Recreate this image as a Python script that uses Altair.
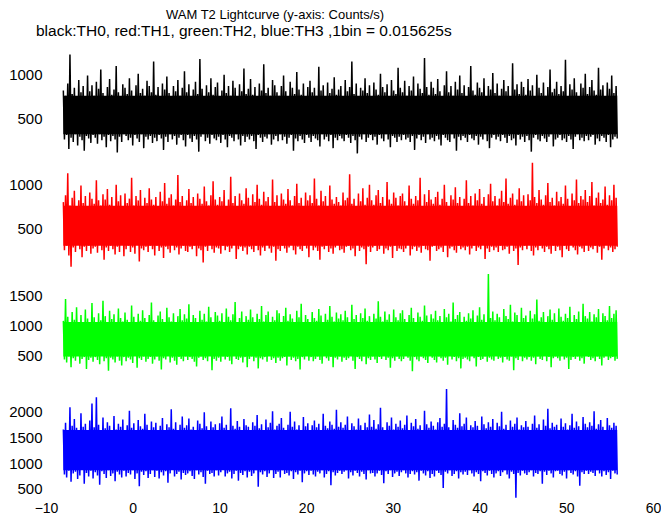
import altair as alt
import pandas as pd

# ---------------- data ----------------
T_START = -8.0
T_END = 56.0
X_TICKS = [-10, 0, 10, 20, 30, 40, 50, 60]

TITLE = "WAM T2 Lightcurve (y-axis: Counts/s)"
SUBTITLE = "black:TH0, red:TH1, green:TH2, blue:TH3 ,1bin = 0.015625s"

# per-column upper / lower extremes (counts/s)
BLACK_HI = [820, 760, 900, 1230, 780, 850, 720, 940, 800, 870, 750, 990, 810, 880,
            760, 920, 840, 1060, 790, 730, 860, 950, 770, 830, 1100, 800, 740, 890,
            850, 780, 960, 820, 710, 880, 1010, 790, 840, 760, 930, 870, 800, 1150,
            770, 860, 740, 900, 830, 980, 790, 720, 870, 810, 940, 760, 850, 1040,
            800, 890, 750, 830, 920, 780, 1180, 840, 730, 880, 800, 960, 770, 860,
            910, 740, 820, 1000, 790, 870, 760, 930, 850, 720, 890, 810, 1070, 780,
            840, 950, 770, 860, 730, 900, 820, 1120, 790, 850, 760, 940, 880, 800,
            760, 870, 990, 810, 740, 920, 850, 780, 1030, 830, 770, 900, 720, 860,
            930, 800, 850, 760, 1090, 820, 880, 740, 910, 790, 840, 970, 770, 830,
            870, 750, 940, 810, 860, 1150, 780, 900, 730, 850, 820, 960, 790, 880,
            740, 910, 830, 770, 1010, 860, 800, 890, 750, 940, 820, 780, 1080, 850,
            800, 930, 760, 870, 820, 980, 740, 900, 840, 790, 1190, 860, 770, 920,
            850, 780, 950, 810, 730, 880, 1040, 800, 870, 760, 920, 830, 990, 790,
            880, 740, 860, 1100, 820, 770, 910, 850, 800, 960, 730, 870, 830, 1020,
            790, 900, 760, 840, 940, 810, 870, 750, 1130, 830, 890, 780, 920, 860,
            770, 950, 820, 880, 740, 1000, 850, 790, 910, 760, 860, 1060, 800, 840,
            920, 780, 870, 810, 1170, 750, 890, 830, 960, 800, 740, 900, 850, 1010,
            780, 860, 940, 820, 770, 1080, 830, 880, 750, 910, 840, 990, 790, 870]
BLACK_LO = [260, 310, 150, 280, 230, 320, 190, 290, 250, 130, 300, 270, 220, 310,
            280, 210, 320, 250, 290, 170, 310, 240, 300, 260, 110, 290, 230, 320,
            300, 250, 280, 190, 310, 270, 230, 320, 160, 290, 260, 300, 220, 280,
            240, 310, 270, 140, 290, 230, 320, 260, 300, 200, 280, 310, 250, 180,
            310, 270, 230, 300, 260, 120, 290, 320, 240, 280, 210, 310, 270, 250,
            290, 220, 310, 260, 170, 300, 280, 240, 320, 260, 190, 300, 230, 290,
            260, 300, 240, 150, 310, 280, 230, 290, 270, 320, 200, 260, 300, 240,
            320, 250, 290, 210, 280, 310, 130, 270, 240, 300, 260, 220, 310, 280,
            230, 300, 270, 250, 180, 320, 260, 290, 240, 310, 160, 280, 250, 300,
            270, 240, 310, 280, 220, 300, 250, 100, 290, 260, 320, 230, 280, 310,
            250, 290, 200, 310, 270, 240, 320, 260, 170, 300, 280, 230, 290, 250,
            310, 260, 280, 230, 300, 140, 270, 310, 250, 290, 220, 320, 260, 280,
            240, 300, 260, 190, 310, 280, 250, 230, 320, 270, 130, 290, 250, 300,
            280, 230, 310, 270, 250, 300, 200, 290, 260, 320, 240, 160, 280, 310,
            260, 290, 240, 310, 280, 220, 300, 250, 270, 190, 310, 260, 290, 230,
            300, 250, 120, 280, 310, 260, 240, 300, 270, 230, 290, 320, 180, 260,
            280, 310, 250, 270, 230, 300, 260, 150, 290, 320, 250, 280, 240, 300,
            250, 290, 310, 200, 270, 240, 300, 280, 230, 310, 170, 260, 290, 270]
BLACK_CORE = [320, 760]

RED_HI = [800, 880, 1130, 760, 850, 930, 740, 820, 990, 790, 870, 730, 910, 840,
          780, 1050, 820, 760, 890, 830, 950, 770, 860, 720, 1000, 810, 880, 750,
          900, 790, 840, 1080, 760, 870, 820, 940, 730, 850, 790, 960, 830, 770,
          860, 740, 920, 810, 1020, 780, 850, 890, 760, 830, 1110, 800, 870, 740,
          820, 950, 790, 860, 730, 900, 840, 780, 980, 810, 760, 880, 1040, 830,
          770, 860, 810, 940, 750, 830, 1090, 790, 870, 740, 900, 820, 780, 960,
          850, 760, 890, 800, 1000, 840, 770, 920, 810, 860, 730, 1060, 800, 880,
          740, 900, 830, 780, 950, 820, 760, 870, 1010, 790, 850, 740, 910, 820,
          880, 790, 1070, 840, 760, 930, 810, 870, 750, 990, 830, 780, 860, 800,
          760, 910, 820, 850, 1120, 780, 840, 730, 900, 810, 960, 770, 850, 1000,
          820, 770, 880, 940, 790, 860, 740, 1030, 830, 780, 910, 850, 760, 870,
          900, 810, 760, 990, 840, 780, 870, 820, 1080, 750, 890, 800, 940, 830,
          780, 860, 920, 770, 840, 1000, 800, 750, 880, 830, 970, 790, 860, 740,
          840, 1050, 790, 870, 760, 900, 820, 950, 780, 860, 730, 890, 1010, 810,
          870, 760, 840, 930, 800, 1070, 780, 850, 900, 770, 830, 960, 810, 880,
          750, 890, 820, 1250, 860, 790, 940, 830, 770, 880, 1020, 800, 850, 760,
          920, 810, 860, 780, 990, 840, 750, 900, 820, 1060, 790, 870, 830, 940,
          800, 870, 1030, 760, 850, 910, 790, 830, 980, 770, 880, 820, 1000, 850]
RED_LO = [250, 300, 190, 60, 280, 230, 310, 260, 170, 290, 240, 300, 210, 270,
          290, 220, 310, 250, 140, 280, 240, 300, 260, 200, 290, 230, 310, 180,
          260, 300, 230, 280, 210, 310, 120, 270, 250, 290, 230, 300, 260, 190,
          300, 240, 280, 160, 290, 260, 220, 310, 250, 280, 200, 270, 300, 240,
          230, 290, 260, 300, 180, 270, 250, 110, 290, 240, 310, 260, 220, 280,
          270, 210, 300, 250, 290, 230, 270, 310, 150, 260, 290, 240, 280, 200,
          290, 260, 230, 300, 250, 190, 280, 240, 310, 270, 220, 290, 130, 260,
          240, 300, 270, 220, 280, 310, 250, 200, 290, 260, 240, 300, 270, 170,
          310, 250, 280, 240, 140, 290, 260, 300, 230, 270, 210, 280, 310, 250,
          260, 220, 290, 300, 250, 270, 180, 310, 240, 280, 260, 90, 290, 230,
          280, 300, 240, 260, 310, 210, 270, 250, 290, 160, 300, 240, 270, 260,
          230, 270, 310, 190, 260, 290, 240, 280, 220, 300, 260, 250, 130, 290,
          300, 240, 260, 280, 230, 310, 170, 270, 290, 250, 220, 300, 260, 280,
          250, 290, 200, 270, 300, 240, 280, 260, 310, 150, 270, 230, 290, 250,
          280, 230, 300, 250, 260, 290, 210, 310, 240, 270, 80, 280, 250, 300,
          260, 310, 240, 190, 280, 250, 300, 270, 230, 290, 260, 210, 300, 240,
          290, 250, 170, 300, 260, 240, 310, 280, 250, 200, 290, 270, 230, 310,
          240, 280, 260, 300, 220, 290, 140, 270, 310, 250, 280, 230, 260, 290]
RED_CORE = [300, 760]

GREEN_HI = [1080, 1450, 1150, 1020, 1230, 1100, 1310, 1060, 1180, 1000, 1270, 1120, 1050, 1380,
            1140, 1010, 1210, 1090, 1420, 1160, 1040, 1250, 1110, 1190, 1030, 1290, 1130, 1070,
            1220, 1100, 1050, 1340, 1150, 1010, 1200, 1080, 1260, 1130, 1060, 1180, 1390, 1090,
            1040, 1170, 1240, 1110, 1020, 1300, 1140, 1070, 1210, 1000, 1160, 1280, 1090, 1190,
            1120, 1360, 1060, 1180, 1130, 1030, 1250, 1100, 1200, 1070, 1320, 1140, 1050, 1230,
            1170, 1080, 1210, 1010, 1290, 1150, 1090, 1190, 1400, 1060, 1130, 1240, 1020, 1160,
            1100, 1270, 1140, 1050, 1200, 1110, 1330, 1070, 1180, 1240, 1030, 1150, 1090, 1260,
            1210, 1040, 1160, 1300, 1080, 1190, 1120, 1020, 1250, 1140, 1370, 1060, 1180, 1110,
            1050, 1230, 1130, 1080, 1280, 1170, 1010, 1200, 1100, 1330, 1150, 1070, 1220, 1120,
            1190, 1090, 1250, 1140, 1040, 1350, 1110, 1180, 1060, 1210, 1130, 1290, 1080, 1160,
            1030, 1200, 1120, 1410, 1150, 1070, 1240, 1100, 1190, 1020, 1270, 1140, 1090, 1210,
            1260, 1110, 1060, 1180, 1300, 1130, 1050, 1220, 1150, 1080, 1340, 1170, 1040, 1190,
            1120, 1250, 1090, 1160, 1030, 1280, 1140, 1200, 1070, 1390, 1110, 1180, 1230, 1060,
            1150, 1080, 1210, 1120, 1260, 1040, 1170, 1310, 1100, 1190, 1060, 1870, 1130, 1240,
            1090, 1200, 1140, 1030, 1280, 1160, 1110, 1350, 1070, 1220, 1180, 1050, 1300, 1130,
            1170, 1060, 1250, 1120, 1190, 1440, 1080, 1140, 1230, 1020, 1160, 1270, 1100, 1210,
            1040, 1290, 1150, 1080, 1200, 1130, 1320, 1060, 1180, 1110, 1240, 1010, 1370, 1160,
            1120, 1230, 1070, 1190, 1140, 1280, 1050, 1210, 1160, 1090, 1330, 1130, 1200, 1260]
GREEN_LO = [430, 380, 480, 300, 450, 410, 490, 360, 440, 470, 270, 420, 460, 390,
            470, 420, 350, 490, 400, 450, 240, 460, 430, 380, 480, 410, 330, 470,
            400, 460, 430, 370, 490, 290, 450, 420, 480, 390, 440, 470, 360, 430,
            480, 410, 260, 450, 430, 490, 380, 460, 410, 340, 470, 440, 400, 480,
            420, 470, 440, 390, 310, 460, 480, 420, 450, 400, 490, 250, 440, 410,
            460, 390, 480, 430, 470, 410, 350, 490, 440, 420, 460, 380, 470, 300,
            440, 480, 400, 460, 280, 450, 430, 470, 390, 490, 420, 450, 370, 460,
            410, 450, 470, 330, 480, 420, 460, 400, 440, 260, 470, 430, 490, 410,
            470, 400, 440, 480, 420, 360, 490, 450, 410, 470, 300, 460, 430, 480,
            390, 460, 420, 450, 490, 410, 270, 470, 440, 400, 480, 350, 450, 420,
            480, 430, 370, 470, 440, 490, 420, 460, 290, 450, 410, 480, 440, 400,
            440, 490, 460, 410, 230, 470, 430, 400, 480, 450, 420, 370, 490, 460,
            420, 380, 480, 450, 410, 460, 340, 490, 430, 470, 400, 450, 280, 440,
            460, 430, 400, 490, 450, 310, 470, 420, 440, 480, 390, 460, 430, 410,
            490, 440, 460, 380, 470, 430, 410, 480, 250, 450, 420, 490, 400, 460,
            430, 470, 410, 460, 350, 480, 440, 420, 490, 400, 470, 300, 450, 480,
            450, 410, 490, 430, 460, 270, 420, 470, 440, 480, 410, 450, 360, 490,
            470, 420, 450, 400, 480, 440, 330, 460, 490, 420, 450, 470, 410, 440]
GREEN_CORE = [480, 1060]

BLUE_HI = [1650, 1780, 1600, 2080, 1720, 1850, 1680, 1590, 1960, 1700, 1760, 1630, 1820, 2150,
           1690, 2270, 1740, 1610, 1880, 1670, 1790, 1720, 1580, 1910, 1650, 1760, 1700, 1840,
           1620, 1730, 2010, 1680, 1770, 1600, 1830, 1710, 1660, 1950, 1740, 1590, 1800, 1690,
           1780, 1640, 1720, 1870, 1610, 1750, 1690, 2040, 1660, 1790, 1620, 1740, 1900, 1680,
           1730, 1860, 1650, 1700, 1600, 1820, 1760, 1670, 1980, 1710, 1640, 1800, 1690, 1750,
           1610, 1770, 1900, 1680, 1740, 1630, 2060, 1720, 1660, 1810, 1700, 1590, 1850, 1730,
           1700, 1640, 1790, 1720, 1930, 1670, 1750, 1610, 1840, 1690, 1780, 2000, 1650, 1720,
           1760, 1870, 1680, 1620, 1740, 1990, 1700, 1800, 1650, 1730, 1600, 1890, 1710, 1770,
           1640, 1730, 1820, 1690, 1760, 1610, 1950, 1720, 1670, 1800, 1740, 1660, 2030, 1700,
           1790, 1680, 1740, 1900, 1620, 1770, 1710, 1650, 1860, 1730, 1600, 1780, 1690, 1940,
           1700, 1830, 1660, 1750, 2070, 1690, 1610, 1790, 1720, 1880, 1650, 1760, 1700, 1820,
           1670, 1740, 1920, 1630, 1780, 1710, 1850, 1660, 1730, 1600, 2010, 1750, 1680, 1800,
           1720, 1650, 1790, 1870, 1700, 1760, 2430, 1690, 1620, 1830, 1740, 1680, 1960, 1710,
           1760, 1880, 1640, 1730, 1690, 1810, 1720, 1600, 1900, 1750, 1670, 1790, 1700, 1850,
           1630, 1780, 1710, 1990, 1660, 1740, 1620, 1820, 1700, 1760, 1880, 1650, 1730, 1690,
           1810, 1700, 1640, 1760, 1920, 1680, 1750, 1610, 1840, 1720, 2050, 1670, 1780, 1700,
           1740, 1620, 1860, 1700, 1770, 1650, 1730, 1950, 1680, 1800, 1710, 1640, 1890, 1760,
           1690, 1790, 1720, 2000, 1660, 1750, 1830, 1700, 1640, 1870, 1730, 1680, 1780, 1720]
BLUE_LO = [780, 720, 850, 640, 800, 830, 690, 760, 870, 600, 810, 740, 850, 700,
           820, 760, 580, 840, 790, 710, 860, 750, 800, 650, 830, 780, 720, 850,
           740, 810, 780, 860, 690, 800, 550, 830, 770, 840, 710, 790, 860, 730,
           850, 700, 820, 760, 840, 620, 800, 870, 740, 790, 830, 680, 810, 770,
           800, 840, 750, 690, 860, 780, 820, 730, 600, 850, 790, 810, 740, 860,
           760, 820, 870, 740, 800, 830, 700, 790, 850, 660, 810, 770, 840, 720,
           830, 750, 800, 860, 540, 820, 780, 840, 730, 800, 870, 710, 790, 830,
           720, 860, 790, 810, 760, 840, 690, 820, 780, 850, 630, 800, 840, 770,
           850, 780, 740, 830, 800, 860, 720, 790, 840, 570, 820, 760, 810, 850,
           790, 830, 860, 700, 820, 760, 850, 810, 740, 830, 790, 680, 860, 800,
           810, 740, 800, 850, 770, 610, 840, 790, 860, 730, 800, 830, 750, 820,
           860, 800, 720, 790, 840, 780, 820, 660, 850, 800, 760, 840, 710, 790,
           740, 850, 810, 770, 520, 830, 800, 860, 750, 790, 840, 700, 820, 780,
           830, 770, 860, 800, 740, 820, 790, 650, 840, 810, 760, 850, 790, 720,
           800, 840, 750, 820, 860, 780, 700, 830, 790, 330, 810, 760, 850, 800,
           770, 820, 860, 740, 810, 790, 840, 600, 830, 770, 850, 800, 720, 840,
           850, 790, 760, 830, 700, 860, 810, 780, 840, 740, 560, 820, 790, 850,
           790, 830, 810, 750, 860, 800, 740, 840, 770, 820, 690, 850, 800, 780]
BLUE_CORE = [860, 1640]

PANELS = [
    ("TH0", BLACK_HI, BLACK_LO, BLACK_CORE, "#000000", [70, 1340], [500, 1000]),
    ("TH1", RED_HI, RED_LO, RED_CORE, "#ff0000", [35, 1305], [500, 1000]),
    ("TH2", GREEN_HI, GREEN_LO, GREEN_CORE, "#00ff00", [0, 1870], [500, 1000, 1500]),
    ("TH3", BLUE_HI, BLUE_LO, BLUE_CORE, "#0000ff", [305, 2450], [500, 1000, 1500, 2000]),
]

FONT = "Liberation Sans"
W, H = 607, 111


def series_frame(hi, lo):
    n = min(len(hi), len(lo))
    step = (T_END - T_START) / n
    rows = []
    for i in range(n):
        t = T_START + i * step
        rows.append({"t": t, "v": hi[i]})
        rows.append({"t": t + step / 2, "v": lo[i]})
    return pd.DataFrame(rows), step


def panel(hi, lo, core, color, ydom, yticks, show_x, title=None):
    df, step = series_frame(hi, lo)
    core_df = pd.DataFrame({"t0": [T_START], "t1": [T_END - step / 2],
                            "lo": [core[0]], "hi": [core[1]]})
    xscale = alt.Scale(domain=[-10, 60], nice=False, zero=False)
    if show_x:
        xaxis = alt.Axis(values=X_TICKS, ticks=False, domain=False, grid=False,
                         labelFontSize=14, labelPadding=2, labelFlush=False,
                         title=None, format="d", labelFont=FONT, labelColor="black")
    else:
        xaxis = None
    yscale = alt.Scale(domain=ydom, nice=False, zero=False)
    yaxis = alt.Axis(values=yticks, ticks=False, domain=False, grid=False,
                     labelFontSize=15, labelPadding=4, title=None, format="d",
                     labelFont=FONT, labelColor="black")
    band = alt.Chart(core_df).mark_rect(color=color).encode(
        x=alt.X("t0:Q", scale=xscale, axis=xaxis), x2="t1",
        y=alt.Y("lo:Q", scale=yscale, axis=yaxis), y2="hi")
    line = alt.Chart(df).mark_line(color=color, strokeWidth=1.5).encode(
        x=alt.X("t:Q", scale=xscale, axis=xaxis),
        y=alt.Y("v:Q", scale=yscale, axis=yaxis))
    props = dict(width=W, height=H)
    if title is not None:
        props["title"] = title
    return alt.layer(band, line).properties(**props)


charts = []
for k, (name, hi, lo, core, color, ydom, yticks) in enumerate(PANELS):
    t = None
    if k == 0:
        t = alt.TitleParams(SUBTITLE, anchor="start", frame="group", dx=-10,
                            fontSize=15.5, font=FONT, fontWeight="normal",
                            color="black", offset=6)
    charts.append(panel(hi, lo, core, color, ydom, yticks, k == len(PANELS) - 1, t))

chart = alt.vconcat(*charts, spacing=1).properties(
    title=alt.TitleParams(TITLE, anchor="start", frame="group", dx=120,
                          fontSize=13, font=FONT, fontWeight="normal",
                          color="black", offset=2),
    padding={"left": 0, "top": 0, "right": 0, "bottom": 0},
).configure_view(stroke=None)

chart.save("out.html", embed_options={"renderer": "svg", "actions": False})
